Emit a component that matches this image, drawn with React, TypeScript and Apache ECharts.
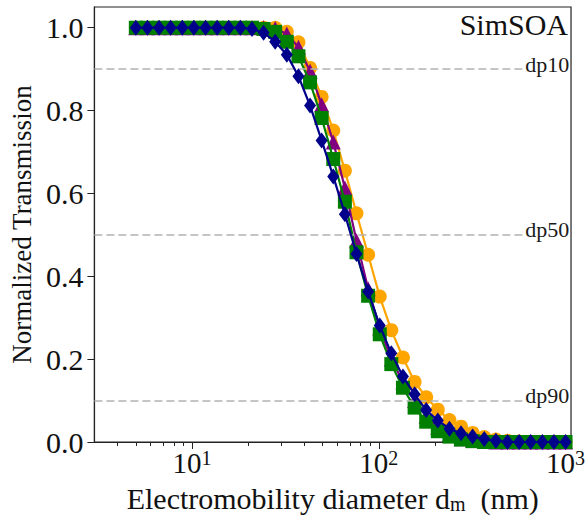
import React, { useEffect, useRef } from "react";
import * as echarts from "echarts";

const diameters = [5.0, 5.77, 6.66, 7.68, 8.87, 10.23, 11.81, 13.62, 15.72, 18.14, 20.94, 24.16, 27.88, 32.17, 37.13, 42.84, 49.43, 57.05, 65.83, 75.97, 87.66, 101.2, 116.7, 134.7, 155.5, 179.4, 207.0, 238.9, 275.6, 318.1, 367.1, 423.6, 488.8, 564.1, 651.0, 751.2, 866.8, 1000];

const orangeSeries = [1, 1, 1, 1, 1, 1, 1, 1, 1, 1, 1, 1, 1, 0.99, 0.965, 0.903, 0.833, 0.752, 0.655, 0.552, 0.452, 0.351, 0.27, 0.204, 0.145, 0.108, 0.078, 0.053, 0.037, 0.022, 0.012, 0.006, 0.003, 0.001, 0, 0, 0, 0];
const purpleSeries = [1, 1, 1, 1, 1, 1, 1, 1, 1, 1, 1, 1, 0.998, 0.985, 0.953, 0.895, 0.814, 0.724, 0.613, 0.486, 0.37, 0.275, 0.2, 0.145, 0.1, 0.062, 0.036, 0.018, 0.008, 0.004, 0.002, 0, 0, 0, 0, 0, 0, 0];
const greenSeries = [1, 1, 1, 1, 1, 1, 1, 1, 1, 1, 1, 0.997, 0.99, 0.966, 0.931, 0.868, 0.782, 0.683, 0.58, 0.458, 0.353, 0.26, 0.188, 0.131, 0.083, 0.049, 0.026, 0.013, 0.006, 0.002, 0, 0, 0, 0, 0, 0, 0, 0];
const navySeries = [1, 1, 1, 1, 1, 1, 1, 1, 1, 1, 0.997, 0.988, 0.966, 0.935, 0.883, 0.812, 0.728, 0.641, 0.55, 0.454, 0.363, 0.281, 0.214, 0.158, 0.115, 0.077, 0.052, 0.032, 0.021, 0.013, 0.007, 0.003, 0, 0, 0, 0, 0, 0];

const yTicks = [0, 0.2, 0.4, 0.6, 0.8, 1.0];
const xMajorTicks = [10, 100, 1000];
const xMinorTicks = [4, 5, 6, 7, 8, 9, 20, 30, 40, 50, 60, 70, 80, 90, 200, 300, 400, 500, 600, 700, 800, 900];
const dpLevels = [0.9, 0.5, 0.1];
const dpLabels = ["dp10", "dp50", "dp90"];

const X_MIN = 3;
const X_MAX = 1070;
const DP_LINE_END = 594;

const FONT = "Liberation Serif, Times New Roman, serif";
const AXIS_COLOR = "#222";

export default function App() {
  const ref = useRef<HTMLDivElement>(null);

  useEffect(() => {
    const chart = echarts.init(ref.current!, null, { renderer: "svg" });

    const mk = (name: string, values: number[], color: string, symbol: string, size: any, z: number) => ({
      type: "line",
      name,
      data: diameters.map((d, i) => [d, values[i]]),
      symbol,
      symbolSize: size,
      showSymbol: true,
      lineStyle: { color, width: 2.2 },
      itemStyle: { color },
      z,
      xAxisIndex: 0,
      yAxisIndex: 0,
    });

    const orange: any = mk("orange", orangeSeries, "#FFA500", "circle", 14, 2);
    orange.markLine = {
      silent: true,
      symbol: "none",
      lineStyle: { color: "#b3b3b3", type: [8, 4], width: 1.6 },
      label: {
        show: true,
        position: "end",
        distance: 2,
        offset: [0, -5],
        fontFamily: FONT,
        fontSize: 22,
        color: "#1a1a1a",
        formatter: (p: any) => dpLabels[p.dataIndex],
      },
      data: dpLevels.map((y) => [{ coord: [X_MIN, y] }, { coord: [DP_LINE_END, y] }]),
    };

    const option: any = {
      animation: false,
      backgroundColor: "#fff",
      textStyle: { fontFamily: FONT },
      title: {
        text: "SimSOA",
        right: 15,
        top: 4,
        textStyle: { fontFamily: FONT, fontSize: 30, fontWeight: "normal", color: "#111" },
      },
      grid: {
        left: 91,
        right: 12,
        top: 7,
        bottom: 86,
        show: true,
        borderColor: AXIS_COLOR,
        borderWidth: 1.2,
        backgroundColor: "transparent",
      },
      xAxis: [
        {
          type: "log",
          logBase: 10,
          min: X_MIN,
          max: X_MAX,
          name: "{t|Electromobility diameter d}{sub|m}{t|  (nm)}",
          nameLocation: "middle",
          nameGap: 35,
          nameTextStyle: {
            rich: {
              t: { fontFamily: FONT, fontSize: 30, color: "#111", lineHeight: 30, verticalAlign: "top" },
              sub: { fontFamily: FONT, fontSize: 20, color: "#111", lineHeight: 20, verticalAlign: "bottom", padding: [12, 0, 0, 0] },
            },
          },
          axisLine: { show: true, lineStyle: { color: AXIS_COLOR, width: 1.2 } },
          axisTick: { show: true, length: 7, customValues: xMajorTicks, lineStyle: { color: AXIS_COLOR } },
          axisLabel: {
            customValues: xMajorTicks,
            margin: 6,
            formatter: (v: number) => `{b|10}{s|${Math.round(Math.log10(v))}}`,
            rich: {
              b: { fontFamily: FONT, fontSize: 29, color: "#111", lineHeight: 29, verticalAlign: "bottom", padding: [10, 0, 0, 0] },
              s: { fontFamily: FONT, fontSize: 20, color: "#111", lineHeight: 20, verticalAlign: "top" },
            },
          },
          splitLine: { show: false },
          minorTick: { show: false },
        },
        {
          type: "log",
          logBase: 10,
          min: X_MIN,
          max: X_MAX,
          position: "bottom",
          gridIndex: 0,
          axisLine: { show: false },
          axisTick: { show: true, length: 4, customValues: xMinorTicks, lineStyle: { color: AXIS_COLOR } },
          axisLabel: { show: false },
          splitLine: { show: false },
        },
      ],
      yAxis: {
        type: "value",
        min: 0,
        max: 1.05,
        name: "Normalized Transmission",
        nameLocation: "middle",
        nameGap: 59,
        nameTextStyle: { fontFamily: FONT, fontSize: 27, color: "#111" },
        axisLine: { show: true, lineStyle: { color: AXIS_COLOR, width: 1.2 } },
        axisTick: { show: true, length: 7, customValues: yTicks, lineStyle: { color: AXIS_COLOR } },
        axisLabel: {
          customValues: yTicks,
          margin: 11,
          fontFamily: FONT,
          fontSize: 30,
          color: "#111",
          formatter: (v: number) => v.toFixed(1),
        },
        splitLine: { show: false },
      },
      series: [
        orange,
        mk("purple", purpleSeries, "#800080", "triangle", 15, 3),
        mk("green", greenSeries, "#008000", "rect", 14, 4),
        mk("navy", navySeries, "#00008B", "diamond", [12, 16], 5),
      ],
    };

    chart.setOption(option);
    return () => chart.dispose();
  }, []);

  return <div ref={ref} style={{ position: "absolute", left: 0, top: 0, width: 588, height: 528 }} />;
}
